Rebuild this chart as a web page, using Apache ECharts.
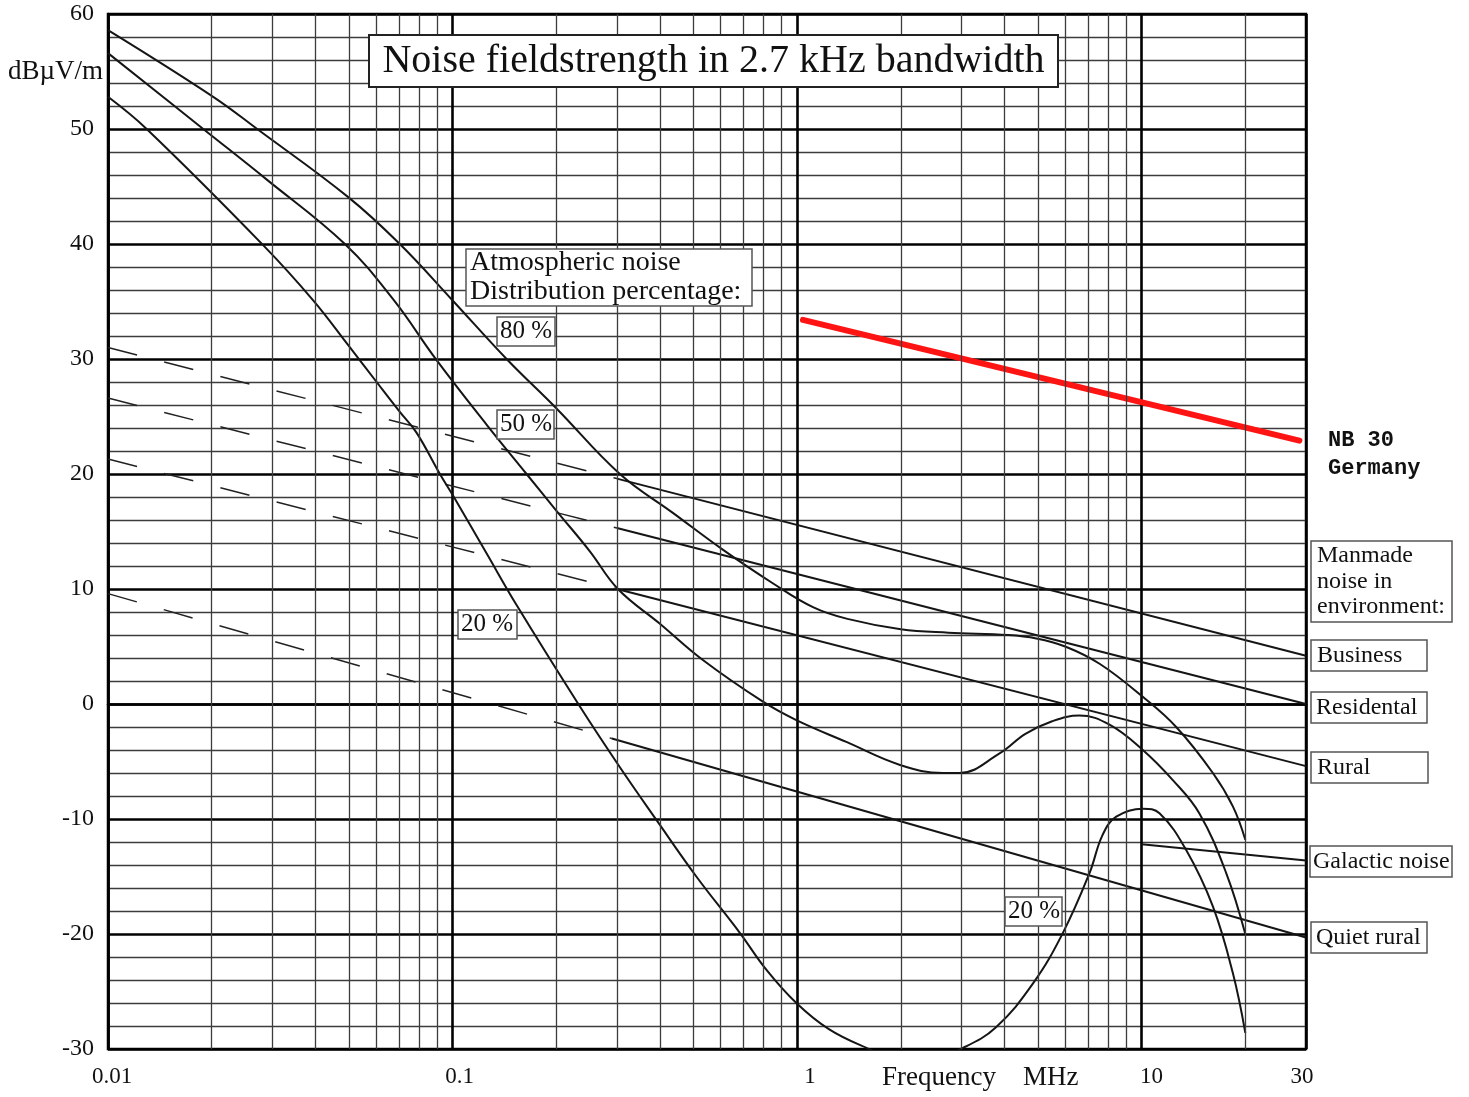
<!DOCTYPE html>
<html><head><meta charset="utf-8">
<script src="https://cdn.jsdelivr.net/npm/echarts@6/dist/echarts.min.js"></script>
<style>html,body{margin:0;padding:0;background:#fff}#c{width:1469px;height:1097px}</style>
</head><body><div id="c"></div>
<script>
// ---- tick labels ----
const xTickValues = [0.01, 0.1, 1, 10, 30];
const xTickLabels = ['0.01', '0.1', '1', '10', '30'];
const yTickLabels = ['-30', '-20', '-10', '0', '10', '20', '30', '40', '50', '60'];
const xMinorGrid = [0.02,0.03,0.04,0.05,0.06,0.07,0.08,0.09,
                    0.2,0.3,0.4,0.5,0.6,0.7,0.8,0.9,
                    2,3,4,5,6,7,8,9,20];

// ---- atmospheric noise curves [MHz, dBµV/m] ----
const atm80 = [[0.01,58.6],[0.0202,52.8],[0.0271,50.0],[0.0497,44.1],[0.0703,40.0],[0.0993,35.2],
  [0.1435,30.0],[0.2003,25.7],[0.306,20.0],[0.437,16.6],[0.61,13.4],[0.85,10.5],[1.116,8.4],
  [1.40,7.4],[2.0,6.5],[2.75,6.2],[4.1,6.0],[4.95,5.7],[6.0,5.0],[7.55,3.5],[10.1,0.6],
  [12.6,-2.0],[16.1,-6.0],[18.4,-8.9],[20.0,-11.8]];
const atm50 = [[0.01,56.6],[0.0189,50.0],[0.0289,45.6],[0.0487,40.0],[0.0672,35.2],
  [0.0899,29.9],[0.1255,24.3],[0.164,20.0],[0.2003,16.8],[0.25,13.3],[0.302,10.0],[0.399,7.0],
  [0.534,3.8],[0.796,0.2],[0.995,-1.4],[1.39,-3.3],[1.99,-5.3],[2.65,-6.0],[2.96,-6.0],
  [3.87,-4.3],[4.6,-2.6],[5.5,-1.5],[6.6,-1.0],[8.07,-1.8],[10.08,-4.0],[12.3,-6.6],
  [14.7,-9.5],[17.6,-14.7],[20.0,-20.0]];
const atm20 = [[0.01,52.8],[0.01295,50.0],[0.0282,39.9],[0.0394,35.1],[0.0498,31.2],[0.0602,28.0],
  [0.0703,25.4],[0.0786,23.6],[0.0919,20.0],[0.1004,18.1],[0.1255,13.1],[0.1534,8.6],
  [0.234,-0.2],[0.306,-5.5],[0.391,-10.1],[0.51,-15.0],[0.682,-19.9],[0.814,-23.1],
  [0.995,-26.0],[1.24,-28.3],[1.59,-29.9],[2.2,-31.5],[3.03,-29.9],[3.78,-28.1],
  [4.84,-24.3],[5.91,-19.9],[7.06,-14.7],[7.7,-11.4],[8.44,-9.8],[10.08,-9.1],
  [11.27,-9.5],[13.47,-12.7],[16.1,-17.6],[18.4,-23.4],[20.0,-28.6]];

// ---- manmade noise lines ----
const business = [[0.3,19.6],[30,4.2]];
const businessExt = [[0.01,31.0],[0.3,19.6]];
const residential = [[0.3,15.3],[30,0.0]];
const residentialExt = [[0.01,26.6],[0.3,15.3]];
const rural = [[0.3,10.0],[30,-5.4]];
const ruralExt = [[0.01,21.3],[0.3,10.0]];
const quietRural = [[0.29,-3.0],[30,-20.3]];
const quietRuralExt = [[0.01,9.6],[0.29,-3.0]];
const galactic = [[10,-12.2],[30,-13.6]];
const nb30 = [[1.04,33.4],[28.7,22.9]];

// ---- texts ----
const titleText = 'Noise fieldstrength in 2.7 kHz bandwidth';
const yUnitText = 'dBµV/m';
const xNameText = ['Frequency', 'MHz'];
const atmoText = 'Atmospheric noise\nDistribution percentage:';
const pctTexts = ['80 %', '50 %', '20 %', '20 %'];
const manmadeText = 'Manmade\nnoise in\nenvironment:';
const envTexts = ['Business', 'Residental', 'Rural', 'Galactic noise', 'Quiet rural'];
const nbText = 'NB 30\nGermany';

const SERIF = '"Liberation Serif", "Times New Roman", serif';
const INK = '#111';

function box(x, y, w, h, text, size, lh, tx, opt) {
  opt = opt || {};
  return [
    {type:'rect', z:100, silent:true, shape:{x:x, y:y, width:w, height:h},
     style:{fill:'#fff', stroke: opt.stroke || '#555', lineWidth: opt.lw || 1.5}},
    {type:'text', z:101, silent:true,
     style:{x: tx, y: y + h/2, text: text, font: size + 'px ' + SERIF, fill: INK,
            lineHeight: lh, align: opt.align || 'left', textAlign: opt.align || 'left',
            verticalAlign:'middle', textVerticalAlign:'middle'}}
  ];
}

const graphics = [].concat(
  box(369, 35, 689, 52, titleText, 40, 44, 713.5, {align:'center', stroke:'#222', lw:2}),
  box(466, 249, 286, 57, atmoText, 28, 29, 470),
  box(497, 317, 58, 29, pctTexts[0], 25, 28, 500),
  box(497, 410, 57, 29, pctTexts[1], 25, 28, 500),
  box(458, 610, 59, 29, pctTexts[2], 25, 28, 461),
  box(1005, 897, 57, 29, pctTexts[3], 25, 28, 1008),
  box(1311, 541, 141, 81, manmadeText, 24, 25.5, 1317),
  box(1311, 640, 116, 31, envTexts[0], 24, 28, 1317),
  box(1311, 692, 116, 31, envTexts[1], 24, 28, 1316),
  box(1311, 752, 117, 31, envTexts[2], 24, 28, 1317),
  box(1310, 846, 142, 31, envTexts[3], 24, 28, 1313),
  box(1311, 922, 116, 31, envTexts[4], 24, 28, 1316),
  [
    {type:'text', z:101, silent:true, style:{x:8, y:72, text:yUnitText, font:'27px ' + SERIF, fill:INK,
      align:'left', textAlign:'left', verticalAlign:'middle', textVerticalAlign:'middle'}},
    {type:'text', z:101, silent:true, style:{x:882, y:1078, text:xNameText[0], font:'27px ' + SERIF, fill:INK,
      align:'left', textAlign:'left', verticalAlign:'middle', textVerticalAlign:'middle'}},
    {type:'text', z:101, silent:true, style:{x:1023, y:1078, text:xNameText[1], font:'27px ' + SERIF, fill:INK,
      align:'left', textAlign:'left', verticalAlign:'middle', textVerticalAlign:'middle'}},
    {type:'text', z:101, silent:true, style:{x:1328, y:454, text:nbText, font:'bold 22px "Liberation Mono", "Courier New", monospace',
      fill:'#111', lineHeight:28, align:'left', textAlign:'left', verticalAlign:'middle', textVerticalAlign:'middle'}}
  ]
);

function solid(data, extra) {
  return Object.assign({type:'line', data:data, showSymbol:false, symbol:'none', silent:true,
    smooth:false, clip:true, z:3,
    lineStyle:{color:'#151515', width:2}}, extra || {});
}
function curve(data) {
  return solid(data, {smooth:0.4});
}
function dashed(data) {
  return solid(data, {lineStyle:{color:'#222', width:1.5, type:[30,28]}});
}

const chart = echarts.init(document.getElementById('c'), null, {renderer:'canvas'});
chart.setOption({
  animation:false,
  backgroundColor:'#fff',
  grid:{left:108, top:14, right:163, bottom:48, show:true, borderColor:'#000', borderWidth:2.5, backgroundColor:'transparent'},
  xAxis:{
    type:'log', logBase:10, min:0.01, max:30,
    axisLine:{show:true, lineStyle:{color:'#000', width:2.5}},
    axisTick:{show:false},
    splitLine:{show:true, lineStyle:{color:'#000', width:2.6}},
    axisLabel:{
      margin:16, color:INK, fontFamily:SERIF, fontSize:23,
      formatter:function(v){
        let best = 0, bd = 1e9;
        xTickValues.forEach(function(t, i){ const d = Math.abs(Math.log10(v) - Math.log10(t)); if (d < bd) { bd = d; best = i; } });
        return '{t' + best + '|' + xTickLabels[best] + '}';
      },
      rich:{
        t0:{fontFamily:SERIF, fontSize:23, color:INK, padding:[0,0,0,8]},
        t1:{fontFamily:SERIF, fontSize:23, color:INK, padding:[0,0,0,14]},
        t2:{fontFamily:SERIF, fontSize:23, color:INK, padding:[0,0,0,26]},
        t3:{fontFamily:SERIF, fontSize:23, color:INK, padding:[0,0,0,20]},
        t4:{fontFamily:SERIF, fontSize:23, color:INK, padding:[0,8,0,0]}
      }
    }
  },
  yAxis:{
    type:'value', min:-30, max:60, interval:10,
    axisLine:{show:true, lineStyle:{color:'#000', width:2.5}},
    axisTick:{show:false},
    splitLine:{show:true, lineStyle:{color:'#000', width:2.6}},
    minorTick:{show:false, splitNumber:5},
    minorSplitLine:{show:true, lineStyle:{color:'#3c3c3c', width:1.3}},
    axisLabel:{margin:14, color:INK, fontFamily:SERIF, fontSize:24,
      formatter:function(v){ const i = Math.round((v + 30) / 10); return yTickLabels[i] !== undefined ? yTickLabels[i] : String(v); }}
  },
  graphic:{elements:graphics},
  series:[
    {type:'line', data:[], silent:true, z:1,
     markLine:{silent:true, symbol:'none', animation:false, label:{show:false},
       lineStyle:{color:'#3c3c3c', width:1.3, type:'solid'},
       emphasis:{disabled:true},
       data:xMinorGrid.map(function(v){ return {xAxis:v}; })}},
    dashed(businessExt), dashed(residentialExt), dashed(ruralExt), dashed(quietRuralExt),
    solid(business), solid(residential), solid(rural), solid(quietRural), solid(galactic),
    curve(atm80), curve(atm50), curve(atm20),
    solid(nb30, {z:4, lineStyle:{color:'#ff1414', width:6, cap:'round'}})
  ]
});
</script></body></html>
